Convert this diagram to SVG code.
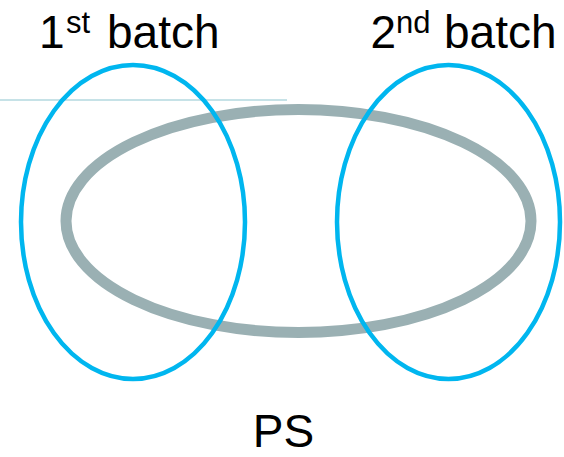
<svg xmlns="http://www.w3.org/2000/svg" width="564" height="457" viewBox="0 0 564 457">
  <style>
    .label { font-family: "Liberation Sans", Arial, sans-serif; fill: #000; }
    .batch { fill: none; stroke: #00B6EF; stroke-width: 4.5; }
    .ps { fill: none; stroke: #9AB0B3; stroke-width: 11; }
  </style>
  <rect width="564" height="457" fill="#fff"/>
  <!-- thin rule behind the sets -->
  <line x1="0" y1="100" x2="287" y2="100" stroke="#C6E2E7" stroke-width="2"/>
  <g id="ps-set">
    <ellipse class="ps" cx="298.5" cy="221" rx="232.5" ry="111.5"/>
    <text class="label" x="283.5" y="447" font-size="46" text-anchor="middle">PS</text>
  </g>
  <g id="batch-1">
    <ellipse class="batch" cx="133" cy="222" rx="112" ry="157"/>
    <text class="label" font-size="46"><tspan x="39" y="48">1</tspan><tspan x="66" y="33" font-size="31">st</tspan><tspan x="107" y="48">batch</tspan></text>
  </g>
  <g id="batch-2">
    <ellipse class="batch" cx="448.5" cy="222" rx="111.5" ry="157"/>
    <text class="label" font-size="46"><tspan x="370.5" y="48">2</tspan><tspan x="396" y="33" font-size="31">nd</tspan><tspan x="444" y="48">batch</tspan></text>
  </g>
</svg>
